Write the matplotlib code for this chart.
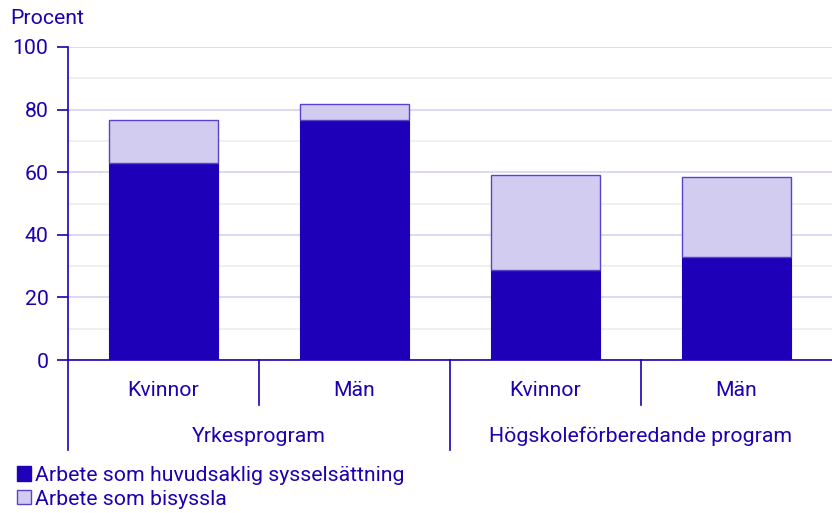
import matplotlib
matplotlib.use("Agg")
import matplotlib.pyplot as plt
import matplotlib.patches as mpatches
import numpy as np

DARK = "#1F00B9"
LIGHT = "#D2CDF0"
EDGE = "#5843CC"
TEXT = "#1E00B0"
GRID_MAJOR = "#D6D2F2"
GRID_MINOR = "#EDEDED"

plt.rcParams["font.family"] = ["Roboto", "DejaVu Sans"]

categories = ["Kvinnor", "Män", "Kvinnor", "Män"]
groups = ["Yrkesprogram", "Högskoleförberedande program"]
huvud = [62.9, 76.7, 28.8, 32.9]
bisyssla = [13.8, 5.1, 30.3, 25.6]

FS = 15.3

fig = plt.figure(figsize=(8.32, 5.13), dpi=100, facecolor="white")
ax = fig.add_axes([68 / 832, 1 - 360 / 513, 1 - 68 / 832, (360 - 47) / 513])

x = np.arange(len(categories))
width = 0.575
ax.bar(x, huvud, width, color=DARK, edgecolor=DARK, linewidth=0.8, zorder=3)
ax.bar(x, bisyssla, width, bottom=huvud, color=LIGHT, edgecolor=EDGE,
       linewidth=1.0, zorder=3)

ax.set_xlim(-0.5, len(categories) - 0.5)
ax.set_ylim(0, 100)
ax.set_yticks(range(0, 101, 20))
ax.set_yticks(range(10, 100, 20), minor=True)
ax.set_xticks([])
ax.tick_params(axis="y", which="major", length=8, width=1.2, color=TEXT,
               labelcolor=TEXT, labelsize=FS, pad=6)
ax.tick_params(axis="y", which="minor", length=0)
ax.yaxis.grid(True, which="major", color=GRID_MAJOR, linewidth=1.2, zorder=0)
ax.yaxis.grid(True, which="minor", color=GRID_MINOR, linewidth=1.2, zorder=0)
ax.set_axisbelow(True)

for s in ["top", "right"]:
    ax.spines[s].set_visible(False)
ax.spines["left"].set_color(TEXT)
ax.spines["left"].set_linewidth(1.2)
ax.spines["bottom"].set_color(TEXT)
ax.spines["bottom"].set_linewidth(1.2)
ax.spines["bottom"].set_zorder(4)

# category axis below the plot
trans = ax.get_xaxis_transform()
ax.plot([-0.5, -0.5], [0, -0.289], transform=trans, color=TEXT, lw=1.2, clip_on=False)
for b in [0.5, 2.5]:
    ax.plot([b, b], [0, -0.144], transform=trans, color=TEXT, lw=1.2, clip_on=False)
ax.plot([1.5, 1.5], [0, -0.289], transform=trans, color=TEXT, lw=1.2, clip_on=False)
for xi, lab in zip(x, categories):
    ax.text(xi, -0.096, lab, transform=trans, ha="center", va="center",
            color=TEXT, fontsize=FS)
for gi, g in enumerate(groups):
    ax.text(gi * 2 + 0.5, -0.243, g, transform=trans, ha="center", va="center",
            color=TEXT, fontsize=FS)

fig.text(10 / 832, 1 - 18 / 513, "Procent", ha="left", va="center",
         color=TEXT, fontsize=FS)

# legend
handles = [mpatches.Patch(facecolor=DARK, edgecolor=DARK, label="Arbete som huvudsaklig sysselsättning"),
           mpatches.Patch(facecolor=LIGHT, edgecolor=EDGE, label="Arbete som bisyssla")]
fig.legend(handles=handles, loc="upper left", bbox_to_anchor=(17 / 832, 1 - 466 / 513),
           frameon=False, fontsize=FS, labelcolor=TEXT, handlelength=0.65,
           handleheight=0.65, handletextpad=0.2, labelspacing=0.22, borderpad=0,
           borderaxespad=0)

fig.savefig("out.png", dpi=100, facecolor="white")
